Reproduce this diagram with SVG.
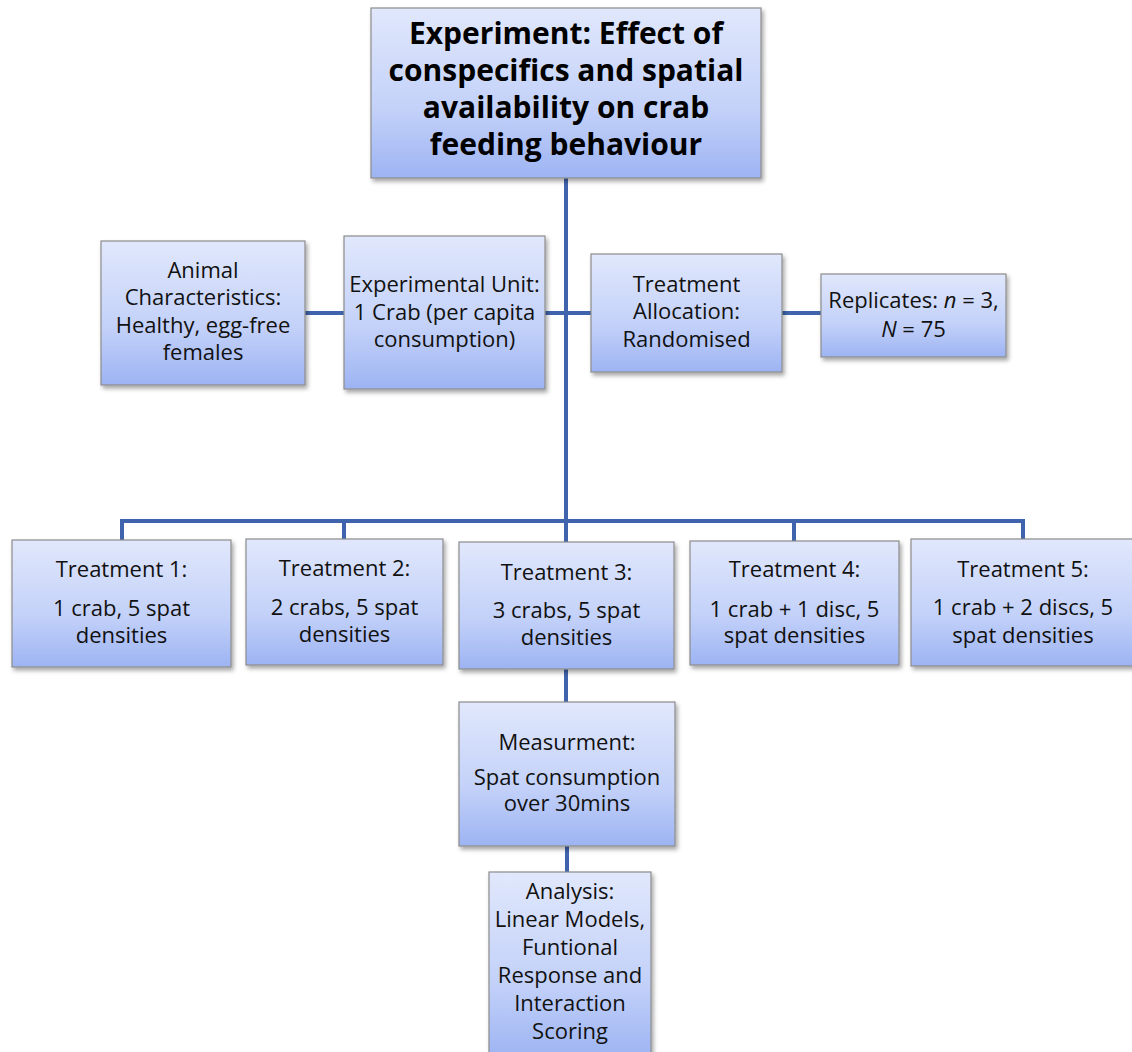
<svg xmlns="http://www.w3.org/2000/svg" width="1132" height="1052" viewBox="0 0 1132 1052">
<defs>
<linearGradient id="fill" x1="0" y1="0" x2="0" y2="1">
<stop offset="0" stop-color="#e1e8fc"/>
<stop offset="0.6" stop-color="#c3d1f9"/>
<stop offset="1" stop-color="#9db4f3"/>
</linearGradient>
<filter id="sh" x="-10%" y="-10%" width="130%" height="130%">
<feDropShadow dx="2" dy="3" stdDeviation="2" flood-color="#000" flood-opacity="0.35"/>
</filter>
</defs>
<style>
.box{fill:url(#fill);stroke:#8c8c8c;stroke-width:1.2;filter:url(#sh)}
.t{font-family:"Open Sans","DejaVu Sans",sans-serif;font-size:22px;fill:#111;text-anchor:middle}
.title{font-family:"Open Sans","DejaVu Sans",sans-serif;font-size:30px;font-weight:bold;fill:#000;text-anchor:middle}
.c{stroke:#3f64ad;stroke-width:4;fill:none}
</style>
<rect width="1132" height="1052" fill="#fff"/>
<g id="connectors">
<path class="c" d="M566 178 V522"/>
<path class="c" d="M122 540 V521 H1023 V539"/>
<path class="c" d="M344 521 V539"/>
<path class="c" d="M566 521 V542"/>
<path class="c" d="M794 521 V541"/>
<path class="c" d="M305 313 H344"/>
<path class="c" d="M545 313 H591"/>
<path class="c" d="M782 313 H821"/>
<path class="c" d="M566 669 V702"/>
<path class="c" d="M567 846 V872"/>
</g>
<g id="experiment">
<rect class="box" x="371" y="8" width="390" height="170"/>
<text class="title" x="566" y="44">Experiment: Effect of</text>
<text class="title" x="566" y="81">conspecifics and spatial</text>
<text class="title" x="566" y="118">availability on crab</text>
<text class="title" x="566" y="155">feeding behaviour</text>
</g>
<g id="animal">
<rect class="box" x="101" y="241" width="204" height="144"/>
<text class="t" x="203" y="278">Animal</text>
<text class="t" x="203" y="305">Characteristics:</text>
<text class="t" x="203" y="333">Healthy, egg-free</text>
<text class="t" x="203" y="360">females</text>
</g>
<g id="unit">
<rect class="box" x="344" y="236" width="201" height="153"/>
<text class="t" x="444.5" y="292">Experimental Unit:</text>
<text class="t" x="444.5" y="320">1 Crab (per capita</text>
<text class="t" x="444.5" y="347">consumption)</text>
</g>
<g id="allocation">
<rect class="box" x="591" y="254" width="191" height="118"/>
<text class="t" x="686.5" y="292">Treatment</text>
<text class="t" x="686.5" y="319">Allocation:</text>
<text class="t" x="686.5" y="347">Randomised</text>
</g>
<g id="replicates">
<rect class="box" x="821" y="274" width="185" height="83"/>
<text class="t" x="913.5" y="308">Replicates: <tspan font-style="italic">n</tspan> = 3,</text>
<text class="t" x="913.5" y="337"><tspan font-style="italic">N</tspan> = 75</text>
</g>
<g id="treatment1">
<rect class="box" x="12" y="540" width="219" height="127"/>
<text class="t" x="121.5" y="577">Treatment 1:</text>
<text class="t" x="121.5" y="616">1 crab, 5 spat</text>
<text class="t" x="121.5" y="643">densities</text>
</g>
<g id="treatment2">
<rect class="box" x="246" y="539" width="197" height="126"/>
<text class="t" x="344.5" y="576">Treatment 2:</text>
<text class="t" x="344.5" y="615">2 crabs, 5 spat</text>
<text class="t" x="344.5" y="642">densities</text>
</g>
<g id="treatment3">
<rect class="box" x="459" y="542" width="215" height="127"/>
<text class="t" x="566.5" y="580">Treatment 3:</text>
<text class="t" x="566.5" y="618">3 crabs, 5 spat</text>
<text class="t" x="566.5" y="645">densities</text>
</g>
<g id="treatment4">
<rect class="box" x="690" y="541" width="209" height="124"/>
<text class="t" x="794.5" y="577">Treatment 4:</text>
<text class="t" x="794.5" y="617">1 crab + 1 disc, 5</text>
<text class="t" x="794.5" y="643">spat densities</text>
</g>
<g id="treatment5">
<rect class="box" x="911" y="539" width="226" height="127"/>
<text class="t" x="1023" y="577">Treatment 5:</text>
<text class="t" x="1023" y="615">1 crab + 2 discs, 5</text>
<text class="t" x="1023" y="643">spat densities</text>
</g>
<g id="measurement">
<rect class="box" x="459" y="702" width="216" height="144"/>
<text class="t" x="567" y="750">Measurment:</text>
<text class="t" x="567" y="785">Spat consumption</text>
<text class="t" x="567" y="811">over 30mins</text>
</g>
<g id="analysis">
<rect class="box" x="489" y="872" width="162" height="186"/>
<text class="t" x="570" y="899">Analysis:</text>
<text class="t" x="570" y="927">Linear Models,</text>
<text class="t" x="570" y="955">Funtional</text>
<text class="t" x="570" y="983">Response and</text>
<text class="t" x="570" y="1011">Interaction</text>
<text class="t" x="570" y="1039">Scoring</text>
</g>
</svg>
